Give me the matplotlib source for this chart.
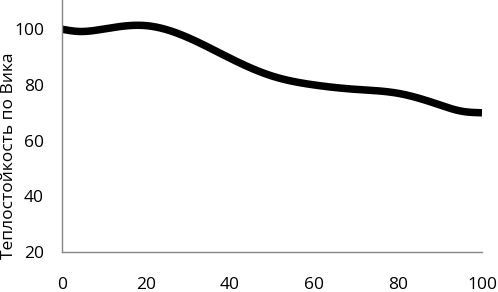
import matplotlib
matplotlib.use("Agg")
import matplotlib.pyplot as plt
import numpy as np

# values
x_vals = [0, 4, 10, 20, 30, 40, 50, 60, 70, 80, 90, 95, 100]
y_vals = [100, 99.2, 100.1, 101.3, 97.0, 89.6, 83.2, 80.0, 78.4, 77.0, 72.8, 70.6, 70.0]
x_ticks = [0, 20, 40, 60, 80, 100]
y_ticks = [20, 40, 60, 80, 100]
y_label = "Теплостойкость по Вика"


def natural_spline(xs, ys, n=600):
    # plain natural cubic spline, solved with numpy
    x = np.asarray(xs, dtype=float)
    y = np.asarray(ys, dtype=float)
    k = len(x)
    h = np.diff(x)
    A = np.zeros((k, k))
    b = np.zeros(k)
    A[0, 0] = A[-1, -1] = 1.0
    for i in range(1, k - 1):
        A[i, i - 1] = h[i - 1]
        A[i, i] = 2 * (h[i - 1] + h[i])
        A[i, i + 1] = h[i]
        b[i] = 6 * ((y[i + 1] - y[i]) / h[i] - (y[i] - y[i - 1]) / h[i - 1])
    m = np.linalg.solve(A, b)
    xx = np.linspace(x[0], x[-1], n)
    idx = np.clip(np.searchsorted(x, xx) - 1, 0, k - 2)
    x0, x1 = x[idx], x[idx + 1]
    hi = x1 - x0
    a = (x1 - xx) / hi
    c = (xx - x0) / hi
    yy = (a * y[idx] + c * y[idx + 1]
          + ((a ** 3 - a) * m[idx] + (c ** 3 - c) * m[idx + 1]) * hi ** 2 / 6)
    return xx, yy


plt.rcParams["font.family"] = ["Open Sans", "DejaVu Sans"]

fig = plt.figure(figsize=(4.98, 2.92), dpi=100)
ax = fig.add_axes([62 / 498, 40 / 292, 420 / 498, 252 / 292])

sx, sy = natural_spline(x_vals, y_vals)
ax.plot(sx, sy, color="black", linewidth=5.4, solid_capstyle="butt")

ax.set_xlim(0, 100)
ax.set_ylim(20, 110.5)
ax.set_xticks(x_ticks)
ax.set_yticks(y_ticks)
ax.tick_params(axis="both", length=0, labelsize=12.5, colors="black")
ax.tick_params(axis="x", pad=18)
ax.tick_params(axis="y", pad=13)

for side in ["top", "right"]:
    ax.spines[side].set_visible(False)
for side in ["left", "bottom"]:
    ax.spines[side].set_color("#868686")
    ax.spines[side].set_linewidth(1.0)

fig.text(9 / 498, 1 - 156 / 292, y_label, rotation=90, ha="center", va="center", fontsize=12.5)

fig.savefig("out.png", dpi=100)
